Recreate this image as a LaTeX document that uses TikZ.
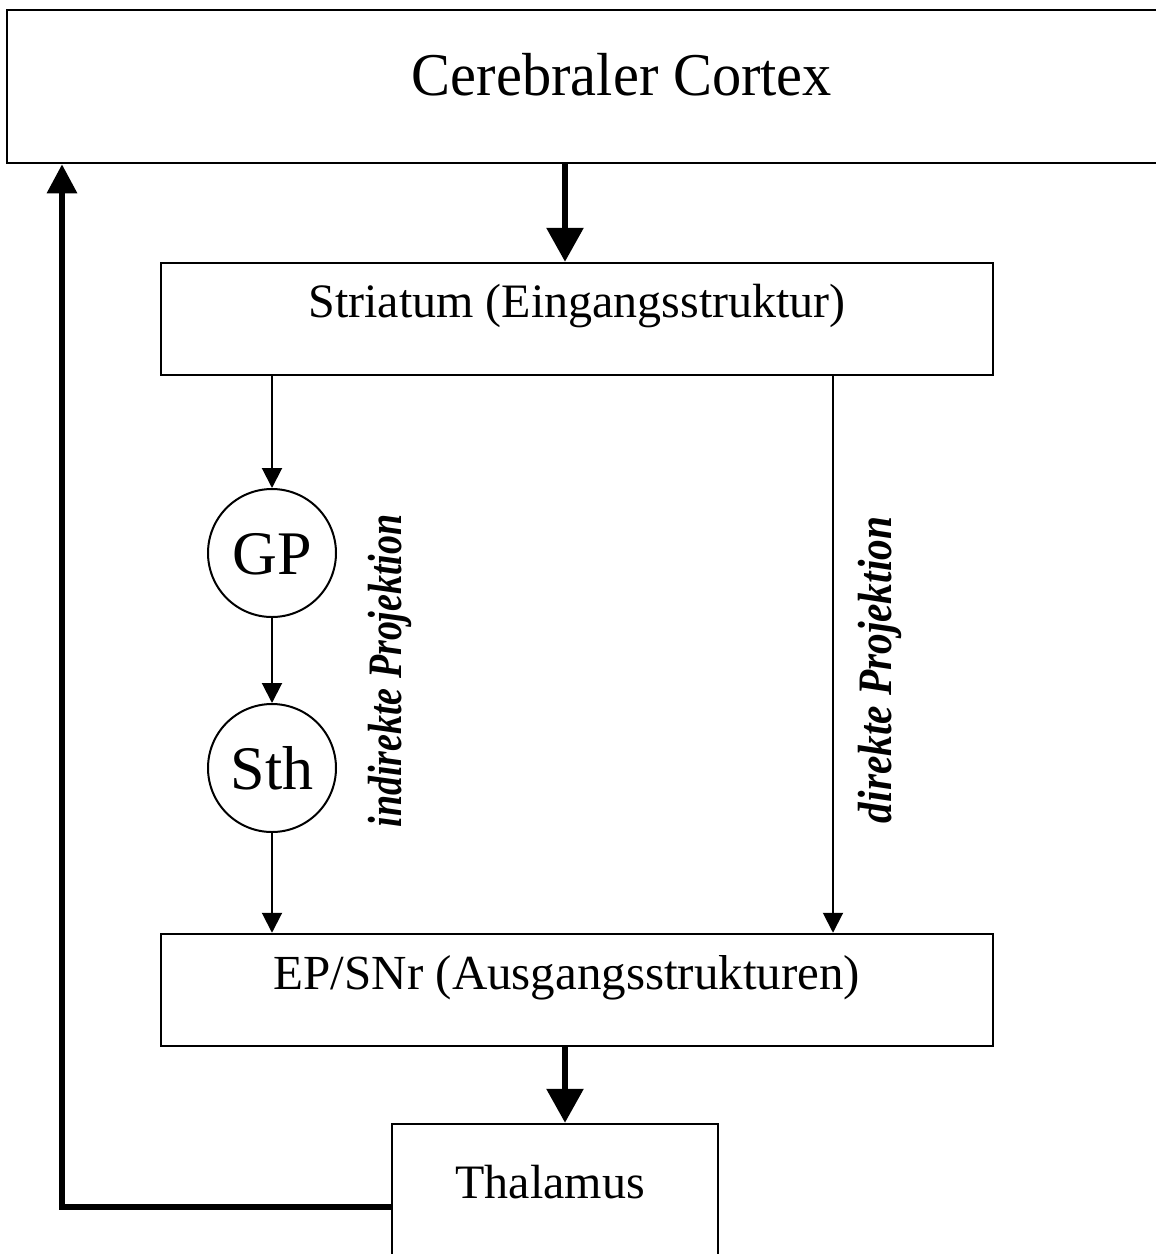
\documentclass[tikz,border=0pt]{standalone}
\usepackage{fontspec}
\setmainfont{Liberation Serif}
\usetikzlibrary{arrows.meta}
\begin{document}
\begin{tikzpicture}[x=1pt,y=-1pt,
  box/.style={draw, line width=2.5pt, rectangle, inner sep=0pt},
  circ/.style={draw, line width=2pt, circle, inner sep=0pt, minimum size=128pt},
  thinarrow/.style={line width=2pt, -{Triangle[length=20pt,width=20pt]}},
  thickarrow/.style={line width=6pt, line join=miter, -{Triangle[length=34pt,width=36pt]}},
  feedarrow/.style={line width=6pt, line join=miter, -{Triangle[length=29pt,width=29pt]}},
  txt/.style={anchor=base, inner sep=0pt},
  rlabel/.style={anchor=base, inner sep=0pt, rotate=90, font=\fontsize{48}{50}\selectfont\bfseries\itshape}
]
\useasboundingbox (0,0) rectangle (1156,1254);
\clip (0,0) rectangle (1156,1254);

% boxes
\node[box, minimum width=1170pt, minimum height=153pt] (cortex) at (592,86.5) {};
\node[box, minimum width=832pt, minimum height=112pt] (striatum) at (577,319) {};
\node[box, minimum width=832pt, minimum height=112pt] (ep) at (577,990) {};
\node[box, minimum width=326pt, minimum height=166pt] (thal) at (555,1207) {};
\node[circ] (gp) at (272,553) {};
\node[circ] (sth) at (272,768) {};

% texts
\node[txt, font=\fontsize{59}{62}\selectfont] (cortext) at (622,95) {\scalebox{0.99}[1.03]{Cerebraler Cortex}};
\node[txt, font=\fontsize{48}{50}\selectfont] (strtext) at (577,317) {Striatum (Eingangsstruktur)};
\node[txt, font=\fontsize{49}{52}\selectfont] (eptext) at (567,989) {EP/SNr (Ausgangsstrukturen)};
\node[txt, font=\fontsize{48}{50}\selectfont] (thaltext) at (550,1198) {Thalamus};
\node[txt, font=\fontsize{62}{64}\selectfont] (gptext) at (272,574) {GP};
\node[txt, font=\fontsize{62}{64}\selectfont] (sthtext) at (272,789) {Sth};
\node[rlabel] (indlabel) at (401,671) {\scalebox{0.79}[1]{indirekte Projektion}};
\node[rlabel] (dirlabel) at (891,670) {\scalebox{0.86}[1]{direkte Projektion}};

% helper x positions
\coordinate (xa) at (565,0);
\coordinate (xb) at (833,0);
\coordinate (xc) at (62,0);

% connectors
\draw[thickarrow] (cortex.south -| xa) -- (striatum.north -| xa);
\draw[thinarrow] (striatum.south -| gp) -- (gp.north);
\draw[thinarrow] (gp.south) -- (sth.north);
\draw[thinarrow] (sth.south) -- (ep.north -| sth);
\draw[thinarrow] (striatum.south -| xb) -- (ep.north -| xb);
\draw[thickarrow] (ep.south -| xa) -- (thal.north -| xa);
\draw[feedarrow] (thal.west) -| (cortex.south -| xc);
\end{tikzpicture}
\end{document}
